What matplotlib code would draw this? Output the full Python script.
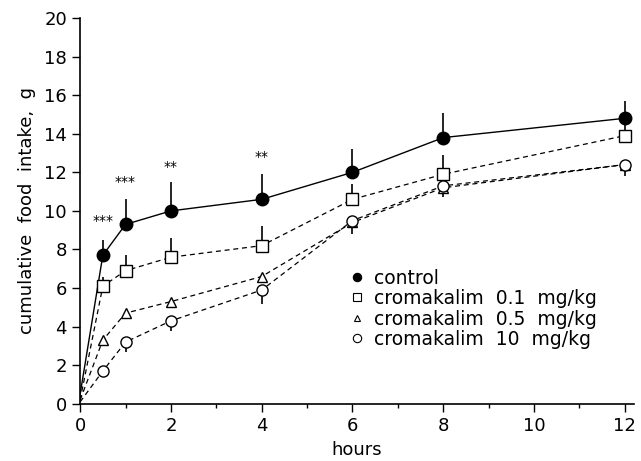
import matplotlib
matplotlib.use("Agg")
import matplotlib.pyplot as plt
from matplotlib.ticker import MultipleLocator
import numpy as np

hours = [0, 0.5, 1, 2, 4, 6, 8, 12]
control = [0.5, 7.7, 9.3, 10.0, 10.6, 12.0, 13.8, 14.8]
crom_01 = [0.2, 6.1, 6.9, 7.6, 8.2, 10.6, 11.9, 13.9]
crom_05 = [0.2, 3.3, 4.7, 5.3, 6.6, 9.4, 11.2, 12.4]
crom_10 = [0.1, 1.7, 3.2, 4.3, 5.9, 9.5, 11.3, 12.4]

# error bar end points (one-sided SEM)
control_err = [0.5, 8.5, 10.6, 11.5, 11.9, 13.2, 15.1, 15.7]
crom_01_err = [0.2, 6.6, 7.7, 8.6, 9.2, 11.4, 12.9, 14.8]
crom_05_err = [0.2, 3.3, 4.7, 5.3, 6.6, 9.4, 11.2, 12.4]
crom_10_err = [0.1, 1.5, 2.7, 3.8, 5.2, 8.8, 10.7, 11.8]

labels = ["control", "cromakalim  0.1  mg/kg", "cromakalim  0.5  mg/kg", "cromakalim  10  mg/kg"]
stars_x = [0.5, 1, 2, 4]
stars_y = [9.5, 11.5, 12.3, 12.8]
stars_txt = ["***", "***", "**", "**"]

plt.rcParams['font.family'] = ['DejaVu Sans']
fig = plt.figure(figsize=(6.41, 4.61), dpi=100)
ax = fig.add_axes([0.125, 0.124, 0.864, 0.837])

series = [
    (control, control_err, 'o', 'k', '-', 1.0, 9),
    (crom_01, crom_01_err, 's', 'white', (0, (4, 3)), 0.9, 8),
    (crom_05, crom_05_err, '^', 'white', (0, (4, 3)), 0.9, 7),
    (crom_10, crom_10_err, 'o', 'white', (0, (4, 3)), 0.9, 8),
]
for (y, e, m, fc, ls, lw, ms), lab in zip(series, labels):
    ax.vlines(hours[1:], y[1:], e[1:], colors='k', lw=1.2, zorder=2)
    ax.plot(hours, y, color='k', ls=ls, lw=lw, zorder=3)
    ax.plot(hours[1:], y[1:], ls='none', marker=m, mfc=fc, mec='k', mew=1.0, ms=ms, zorder=4)
    ax.plot([], [], ls='none', marker=m, mfc=fc, mec='k', mew=0.8, ms=6 if m != '^' else 5, label=lab)

for x, y, t in zip(stars_x, stars_y, stars_txt):
    ax.text(x, y, t, ha='center', va='center', fontsize=10)

ax.set_xlim(0, 12.2)
ax.set_ylim(0, 20)
ax.xaxis.set_major_locator(MultipleLocator(2))
ax.xaxis.set_minor_locator(MultipleLocator(1))
ax.yaxis.set_major_locator(MultipleLocator(2))
for s in ['top', 'right']:
    ax.spines[s].set_visible(False)
ax.spines['left'].set_linewidth(1.2)
ax.spines['bottom'].set_linewidth(1.2)
ax.tick_params(axis='both', which='major', labelsize=13, length=6, width=1, direction='out')
ax.tick_params(axis='x', which='minor', length=3, width=1, direction='out')
ax.set_xlabel('hours', fontsize=13, labelpad=4)
ax.set_ylabel('cumulative  food  intake,  g', fontsize=13, labelpad=6)

ax.legend(loc='upper left', bbox_to_anchor=(0.47, 0.375), frameon=False, fontsize=13.5,
          handlelength=0.8, handletextpad=0.5, labelspacing=0.08, borderpad=0)

fig.savefig('out.png', dpi=100)
